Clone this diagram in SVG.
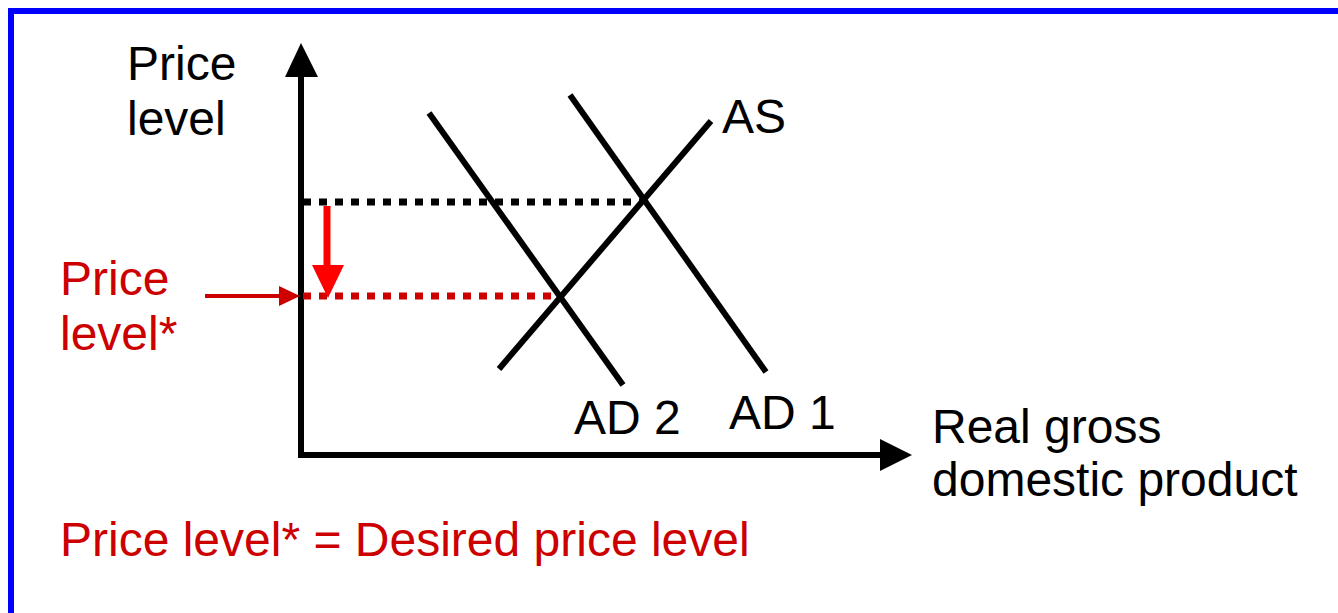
<svg xmlns="http://www.w3.org/2000/svg" width="1338" height="613" viewBox="0 0 1338 613">
<style>
text{font-family:"Liberation Sans",Arial,sans-serif;font-size:48px}
.k{fill:#000}
.r{fill:#CC0000}
.ln{stroke:#000;stroke-width:6;fill:none}
.dot{stroke-width:7;stroke-dasharray:8 8;fill:none}
</style>
<rect width="1338" height="613" fill="#fff"/>
<rect x="11" y="11" width="1400" height="700" fill="none" stroke="#0000FF" stroke-width="6"/>
<g id="axes">
<line class="ln" x1="301" y1="458" x2="301" y2="74"/>
<polygon points="301,43 285,77 318,77" fill="#000"/>
<line class="ln" x1="298" y1="455" x2="884" y2="455"/>
<polygon points="912,455 880,439 880,471" fill="#000"/>
</g>
<g id="connectors">
<line class="dot" stroke="#000" x1="303" y1="202" x2="643" y2="202"/>
<line class="dot" stroke="#CC0000" x1="303" y1="296" x2="563" y2="296"/>
<line stroke="#FF0000" stroke-width="7" x1="327" y1="206" x2="327" y2="267"/>
<polygon points="312,265 344,265 328,298" fill="#FF0000"/>
<line stroke="#CC0000" stroke-width="4" x1="205" y1="296" x2="281" y2="296"/>
<polygon points="279,286 279,306 300,296" fill="#CC0000"/>
</g>
<g id="AS">
<line class="ln" x1="499" y1="369" x2="711" y2="121"/>
<text class="k" x="722" y="133">AS</text>
</g>
<g id="AD1">
<line class="ln" x1="570" y1="95" x2="766" y2="372"/>
<text class="k" x="729" y="429">AD 1</text>
</g>
<g id="AD2">
<line class="ln" x1="429" y1="113" x2="623" y2="385"/>
<text class="k" x="574" y="434">AD 2</text>
</g>
<g id="labels">
<text class="k" x="127" y="80">Price</text>
<text class="k" x="127" y="135">level</text>
<text class="k" x="932" y="443">Real gross</text>
<text class="k" x="932" y="496">domestic product</text>
<text class="r" x="60" y="295">Price</text>
<text class="r" x="60" y="350">level*</text>
<text class="r" x="60" y="556">Price level* = Desired price level</text>
</g>
</svg>
